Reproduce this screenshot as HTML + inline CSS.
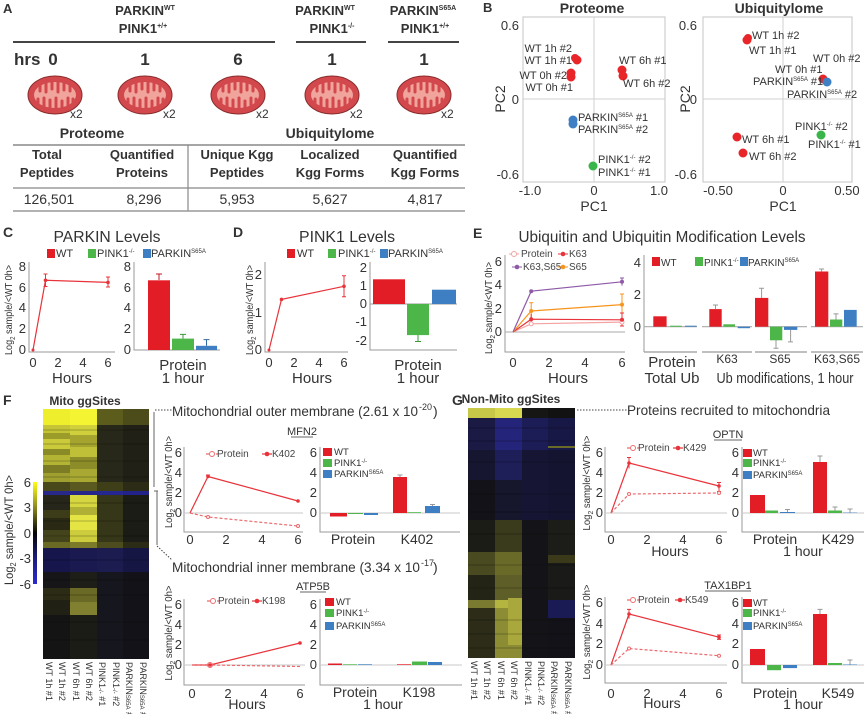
<!DOCTYPE html>
<html><head><meta charset="utf-8"><style>
body{margin:0;background:#fff}
svg{display:block}
text{font-family:"Liberation Sans",Arial,sans-serif;fill:#333}
.b{font-weight:bold}
.ax{stroke:#9a9a9a;stroke-width:1;fill:none}
.zl{stroke:#c8c8c8;stroke-width:1}
.tk{font-size:13px;fill:#444}
.lg{font-size:10px;fill:#444}
.pl{font-size:11px;fill:#555}
.rd{fill:#e31d25}.gn{fill:#4cb748}.bl{fill:#3d7fc2}
.ln{stroke:#e8333a;stroke-width:1.2;fill:none}
.ld{stroke:#ec6a6e;stroke-width:1.2;fill:none;stroke-dasharray:3,2}
.eb{stroke:#e8333a;stroke-width:1;fill:none}
.cl{font-size:9px;fill:#333}
</style></head><body>
<svg width="864" height="714" viewBox="0 0 864 714" xmlns="http://www.w3.org/2000/svg">
<defs>
<g id="mito">
<ellipse rx="27" ry="19" fill="#d2484c" stroke="#8a2c2c" stroke-width="1"/>
<ellipse rx="21" ry="13" fill="#f0a49c"/>
<path d="M-15,-12 v8 M-9,-13 v10 M-3,-13 v7 M3,-13 v10 M9,-13 v8 M15,-11 v7 M-17,12 v-8 M-11,13 v-10 M-5,13 v-8 M1,13 v-10 M7,13 v-7 M13,12 v-9 M18,9 v-5" stroke="#d2484c" stroke-width="3" stroke-linecap="round"/>
</g>
<linearGradient id="cbar" x1="0" y1="0" x2="0" y2="1">
<stop offset="0" stop-color="#ffff10"/><stop offset="0.25" stop-color="#8a8a1c"/><stop offset="0.5" stop-color="#050505"/><stop offset="0.75" stop-color="#1c1c80"/><stop offset="1" stop-color="#2a2ad0"/>
</linearGradient>
</defs>
<rect width="864" height="714" fill="#fff"/>

<!-- ===== Panel A ===== -->
<text x="3" y="13" class="b" font-size="13">A</text>
<text x="145" y="15" text-anchor="middle" class="b" font-size="13">PARKIN<tspan font-size="7" dy="-5">WT</tspan></text>
<text x="143" y="33" text-anchor="middle" class="b" font-size="13">PINK1<tspan font-size="7" dy="-5">+/+</tspan></text>
<line x1="13" y1="42" x2="275" y2="42" stroke="#444" stroke-width="2"/>
<text x="325" y="15" text-anchor="middle" class="b" font-size="13">PARKIN<tspan font-size="7" dy="-5">WT</tspan></text>
<text x="332" y="33" text-anchor="middle" class="b" font-size="13">PINK1<tspan font-size="7" dy="-5">-/-</tspan></text>
<line x1="296" y1="42" x2="366" y2="42" stroke="#444" stroke-width="2"/>
<text x="423" y="15" text-anchor="middle" class="b" font-size="13">PARKIN<tspan font-size="7" dy="-5">S65A</tspan></text>
<text x="425" y="33" text-anchor="middle" class="b" font-size="13">PINK1<tspan font-size="7" dy="-5">+/+</tspan></text>
<line x1="388" y1="42" x2="459" y2="42" stroke="#444" stroke-width="2"/>
<text x="14" y="65" class="b" font-size="17">hrs</text>
<text x="53" y="65" text-anchor="middle" class="b" font-size="17">0</text>
<text x="145" y="65" text-anchor="middle" class="b" font-size="17">1</text>
<text x="238" y="65" text-anchor="middle" class="b" font-size="17">6</text>
<text x="332" y="65" text-anchor="middle" class="b" font-size="17">1</text>
<text x="424" y="65" text-anchor="middle" class="b" font-size="17">1</text>
<use href="#mito" x="55" y="95"/>
<use href="#mito" x="145" y="95"/>
<use href="#mito" x="238" y="95"/>
<use href="#mito" x="332" y="95"/>
<use href="#mito" x="424" y="95"/>
<text x="70" y="118" font-size="12">x2</text>
<text x="163" y="118" font-size="12">x2</text>
<text x="256" y="118" font-size="12">x2</text>
<text x="350" y="118" font-size="12">x2</text>
<text x="441" y="118" font-size="12">x2</text>
<text x="92" y="138" text-anchor="middle" class="b" font-size="14">Proteome</text>
<text x="330" y="138" text-anchor="middle" class="b" font-size="14">Ubiquitylome</text>
<line x1="13" y1="145" x2="465" y2="145" stroke="#888" stroke-width="1.5"/>
<line x1="188" y1="145" x2="188" y2="211" stroke="#888" stroke-width="1.2"/>
<g class="b" font-size="13" text-anchor="middle">
<text x="47" y="159">Total</text><text x="47" y="177">Peptides</text>
<text x="142" y="159">Quantified</text><text x="142" y="177">Proteins</text>
<text x="237" y="159">Unique Kgg</text><text x="237" y="177">Peptides</text>
<text x="330" y="159">Localized</text><text x="330" y="177">Kgg Forms</text>
<text x="425" y="159">Quantified</text><text x="425" y="177">Kgg Forms</text>
</g>
<line x1="13" y1="188" x2="465" y2="188" stroke="#888" stroke-width="1.2"/>
<g font-size="14" text-anchor="middle">
<text x="49" y="204">126,501</text><text x="144" y="204">8,296</text><text x="237" y="204">5,953</text><text x="330" y="204">5,627</text><text x="425" y="204">4,817</text>
</g>
<line x1="13" y1="211" x2="465" y2="211" stroke="#999" stroke-width="1.5"/>

<!-- ===== Panel B ===== -->
<text x="483" y="12" class="b" font-size="13">B</text>
<text x="592" y="13" text-anchor="middle" class="b" font-size="14">Proteome</text>
<text x="779" y="13" text-anchor="middle" class="b" font-size="14">Ubiquitylome</text>
<rect x="523" y="17" width="142" height="165" fill="none" stroke="#c4c4c4"/>
<line x1="594" y1="17" x2="594" y2="182" stroke="#d0d0d0"/>
<line x1="523" y1="99" x2="665" y2="99" stroke="#d0d0d0"/>
<g class="tk" text-anchor="end"><text x="519" y="30">0.6</text><text x="519" y="104">0</text><text x="519" y="179">-0.6</text></g>
<g class="tk" text-anchor="middle"><text x="530" y="195">-1.0</text><text x="594" y="195">0</text><text x="659" y="195">1.0</text></g>
<text x="594" y="211" text-anchor="middle" font-size="14" fill="#444">PC1</text>
<text transform="translate(505,99) rotate(-90)" text-anchor="middle" font-size="14" fill="#444">PC2</text>
<g fill="#e8262a"><circle cx="577" cy="60" r="4.5"/><circle cx="575" cy="58" r="4"/><circle cx="571" cy="73" r="4.5"/><circle cx="571" cy="77" r="4.5"/><circle cx="622" cy="70" r="4.5"/><circle cx="623" cy="76" r="4.5"/></g>
<g fill="#3f7fc4"><circle cx="573" cy="120" r="4.5"/><circle cx="573" cy="124" r="4.5"/></g>
<circle cx="593" cy="166" r="4.5" fill="#3ab54a"/>
<g class="pl">
<text x="572" y="52" text-anchor="end">WT 1h #2</text>
<text x="572" y="64" text-anchor="end">WT 1h #1</text>
<text x="567" y="79" text-anchor="end">WT 0h #2</text>
<text x="573" y="91" text-anchor="end">WT 0h #1</text>
<text x="619" y="64">WT 6h #1</text>
<text x="623" y="87">WT 6h #2</text>
<text x="578" y="121">PARKIN<tspan font-size="6" dy="-4">S65A</tspan><tspan dy="4"> #1</tspan></text>
<text x="578" y="133">PARKIN<tspan font-size="6" dy="-4">S65A</tspan><tspan dy="4"> #2</tspan></text>
<text x="598" y="163">PINK1<tspan font-size="6" dy="-4">-/-</tspan><tspan dy="4"> #2</tspan></text>
<text x="598" y="176">PINK1<tspan font-size="6" dy="-4">-/-</tspan><tspan dy="4"> #1</tspan></text>
</g>
<rect x="703" y="17" width="149" height="165" fill="none" stroke="#c4c4c4"/>
<line x1="783" y1="17" x2="783" y2="182" stroke="#d0d0d0"/>
<line x1="703" y1="99" x2="852" y2="99" stroke="#d0d0d0"/>
<g class="tk" text-anchor="end"><text x="697" y="30">0.6</text><text x="697" y="104">0</text><text x="697" y="179">-0.6</text></g>
<g class="tk" text-anchor="middle"><text x="718" y="195">-0.50</text><text x="783" y="195">0</text><text x="847" y="195">0.50</text></g>
<text x="783" y="211" text-anchor="middle" font-size="14" fill="#444">PC1</text>
<text transform="translate(690,99) rotate(-90)" text-anchor="middle" font-size="14" fill="#444">PC2</text>
<g fill="#e8262a"><circle cx="747" cy="40" r="4.5"/><circle cx="748" cy="38" r="4"/><circle cx="823" cy="79" r="4.5"/><circle cx="737" cy="137" r="4.5"/><circle cx="743" cy="153" r="4.5"/></g>
<circle cx="827" cy="82" r="4.5" fill="#3f7fc4"/>
<circle cx="821" cy="135" r="4.5" fill="#3ab54a"/>
<g class="pl">
<text x="752" y="39">WT 1h #2</text>
<text x="749" y="54">WT 1h #1</text>
<text x="813" y="62">WT 0h #2</text>
<text x="775" y="73">WT 0h #1</text>
<text x="753" y="85">PARKIN<tspan font-size="6" dy="-4">S65A</tspan><tspan dy="4"> #1</tspan></text>
<text x="787" y="98">PARKIN<tspan font-size="6" dy="-4">S65A</tspan><tspan dy="4"> #2</tspan></text>
<text x="795" y="130">PINK1<tspan font-size="6" dy="-4">-/-</tspan><tspan dy="4"> #2</tspan></text>
<text x="808" y="148">PINK1<tspan font-size="6" dy="-4">-/-</tspan><tspan dy="4"> #1</tspan></text>
<text x="742" y="143">WT 6h #1</text>
<text x="749" y="160">WT 6h #2</text>
</g>

<!-- ===== Panel C ===== -->
<text x="3" y="237" class="b" font-size="14">C</text>
<text x="107" y="242" text-anchor="middle" font-size="16" textLength="107" lengthAdjust="spacingAndGlyphs">PARKIN Levels</text>
<rect x="47" y="249" width="8" height="9" class="rd"/><text x="56" y="257" font-size="11">WT</text>
<rect x="88" y="249" width="8" height="9" class="gn"/><text x="97" y="257" font-size="11">PINK1<tspan font-size="6" dy="-4">-/-</tspan></text>
<rect x="143" y="249" width="8" height="9" class="bl"/><text x="151" y="257" font-size="11">PARKIN<tspan font-size="6" dy="-4">S65A</tspan></text>
<text transform="translate(12,310) rotate(-90)" text-anchor="middle" font-size="10.5" textLength="90" lengthAdjust="spacingAndGlyphs">Log<tspan font-size="7" dy="3">2</tspan><tspan dy="-3"> sample/&lt;WT 0h&gt;</tspan></text>
<path class="ax" d="M29,262 V352 H115"/>
<g class="tk" text-anchor="end"><text x="26" y="354">0</text><text x="26" y="333">2</text><text x="26" y="312">4</text><text x="26" y="292">6</text><text x="26" y="271">8</text></g>
<g class="tk" text-anchor="middle"><text x="33" y="367">0</text><text x="58" y="367">2</text><text x="83" y="367">4</text><text x="108" y="367">6</text></g>
<text x="72" y="383" text-anchor="middle" font-size="15">Hours</text>
<polyline class="ln" points="33,350 45.5,280.3 108,282.4"/>
<path class="eb" d="M45.5,274 V286.5 M43.5,274 H47.5 M43.5,286.5 H47.5 M108,277 V287 M106,277 H110 M106,287 H110"/>
<g fill="#e8333a"><circle cx="33" cy="350" r="1.5"/><circle cx="45.5" cy="280.3" r="1.8"/><circle cx="108" cy="282.4" r="1.8"/></g>
<path class="ax" d="M134,262 V350 H220"/>
<g class="tk" text-anchor="end"><text x="131" y="354">0</text><text x="131" y="333">2</text><text x="131" y="312">4</text><text x="131" y="292">6</text><text x="131" y="271">8</text></g>
<rect x="148" y="280.3" width="22" height="69.7" class="rd"/>
<rect x="172" y="338.6" width="22" height="11.4" class="gn"/>
<rect x="196" y="345.8" width="21" height="4.2" class="bl"/>
<path d="M159,280 V274 M156,274 H162" stroke="#c01820"/>
<path d="M183,338.6 V334.4 M180,334.4 H186" stroke="#3a9a38"/>
<path d="M206.5,345.8 V339.6 M203.5,339.6 H209.5" stroke="#2e6aa8"/>
<text x="183" y="370" text-anchor="middle" font-size="15">Protein</text>
<text x="183" y="383" text-anchor="middle" font-size="15">1 hour</text>

<!-- ===== Panel D ===== -->
<text x="233" y="237" class="b" font-size="14">D</text>
<text x="347" y="242" text-anchor="middle" font-size="16" textLength="96" lengthAdjust="spacingAndGlyphs">PINK1 Levels</text>
<rect x="287" y="249" width="8" height="9" class="rd"/><text x="297" y="257" font-size="11">WT</text>
<rect x="328" y="249" width="8" height="9" class="gn"/><text x="338" y="257" font-size="11">PINK1<tspan font-size="6" dy="-4">-/-</tspan></text>
<rect x="380" y="249" width="8" height="9" class="bl"/><text x="388" y="257" font-size="11">PARKIN<tspan font-size="6" dy="-4">S65A</tspan></text>
<text transform="translate(253,310) rotate(-90)" text-anchor="middle" font-size="10.5" textLength="90" lengthAdjust="spacingAndGlyphs">Log<tspan font-size="7" dy="3">2</tspan><tspan dy="-3"> sample/&lt;WT 0h&gt;</tspan></text>
<path class="ax" d="M265,262 V352 H348"/>
<g class="tk" text-anchor="end"><text x="262" y="354">0</text><text x="262" y="317">1</text><text x="262" y="279">2</text></g>
<g class="tk" text-anchor="middle"><text x="269" y="367">0</text><text x="294" y="367">2</text><text x="319" y="367">4</text><text x="344" y="367">6</text></g>
<text x="312" y="383" text-anchor="middle" font-size="15">Hours</text>
<polyline class="ln" points="269,350 281.5,299.4 344,286.3"/>
<path class="eb" d="M344,275.8 V296.8 M342,275.8 H346 M342,296.8 H346"/>
<g fill="#e8333a"><circle cx="269" cy="350" r="1.5"/><circle cx="281.5" cy="299.4" r="1.8"/><circle cx="344" cy="286.3" r="1.8"/></g>
<path class="ax" d="M370,262 V350 H457"/>
<line x1="370" y1="304" x2="457" y2="304" stroke="#999"/>
<g class="tk" text-anchor="end"><text x="367" y="272">2</text><text x="367" y="290">1</text><text x="367" y="308">0</text><text x="367" y="326">-1</text><text x="367" y="345">-2</text></g>
<rect x="373" y="279.3" width="32" height="24.7" class="rd"/>
<rect x="407" y="304" width="22" height="31.1" class="gn"/>
<rect x="432" y="289.7" width="24" height="14.3" class="bl"/>
<path d="M418,335 V341.5 M415,341.5 H421" stroke="#3a9a38"/>
<text x="418" y="370" text-anchor="middle" font-size="15">Protein</text>
<text x="418" y="383" text-anchor="middle" font-size="15">1 hour</text>

<!-- ===== Panel E ===== -->
<text x="473" y="238" class="b" font-size="14">E</text>
<text x="662" y="242" text-anchor="middle" font-size="16" textLength="287" lengthAdjust="spacingAndGlyphs">Ubiquitin and Ubiquitin Modification Levels</text>
<text transform="translate(492,308) rotate(-90)" text-anchor="middle" font-size="10.5" textLength="92" lengthAdjust="spacingAndGlyphs">Log<tspan font-size="7" dy="3">2</tspan><tspan dy="-3"> sample/&lt;WT 0h&gt;</tspan></text>
<path class="ax" d="M505,255 V352 H625"/>
<line x1="505" y1="332" x2="625" y2="332" stroke="#aaa"/>
<g class="tk" text-anchor="end"><text x="502" y="336">0</text><text x="502" y="313">2</text><text x="502" y="289">4</text><text x="502" y="266">6</text></g>
<g class="tk" text-anchor="middle"><text x="513" y="367">0</text><text x="549" y="367">2</text><text x="585" y="367">4</text><text x="622" y="367">6</text></g>
<text x="568" y="383" text-anchor="middle" font-size="15">Hours</text>
<polyline points="513,332 531.2,323.8 622,322.1" fill="none" stroke="#f4a3a3" stroke-width="1.2"/>
<polyline points="513,332 531.2,319.2 622,319.8" fill="none" stroke="#e8333a" stroke-width="1.2"/>
<polyline points="513,332 531.2,311 622,304.6" fill="none" stroke="#f7941d" stroke-width="1.2"/>
<polyline points="513,332 531.2,291.2 622,281.8" fill="none" stroke="#8e5aa8" stroke-width="1.2"/>
<path d="M531.2,302.8 V319.2 M622,294 V315.2 M529.2,302.8 H533.2 M620,294 H624" stroke="#f7941d" fill="none"/>
<path d="M531.2,314 V324 M622,313 V326 M620,313 H624 M620,326 H624" stroke="#e8333a" fill="none"/>
<path d="M622,278 V285.6 M620,278 H624" stroke="#8e5aa8" fill="none"/>
<g><circle cx="531.2" cy="323.8" r="2" fill="#fff" stroke="#f4a3a3"/><circle cx="622" cy="322.1" r="2" fill="#fff" stroke="#f4a3a3"/>
<circle cx="531.2" cy="319.2" r="2" fill="#e8333a"/><circle cx="622" cy="319.8" r="2" fill="#e8333a"/>
<circle cx="531.2" cy="311" r="2" fill="#f7941d"/><circle cx="622" cy="304.6" r="2" fill="#f7941d"/>
<circle cx="531.2" cy="291.2" r="2" fill="#8e5aa8"/><circle cx="622" cy="281.8" r="2" fill="#8e5aa8"/></g>
<line x1="509" y1="254" x2="519" y2="254" stroke="#f4a3a3"/><circle cx="514" cy="254" r="2.5" fill="#fff" stroke="#f4a3a3"/><text x="521" y="257" class="lg">Protein</text>
<line x1="558" y1="254" x2="568" y2="254" stroke="#e8333a"/><circle cx="563" cy="254" r="2.3" fill="#e8333a"/><text x="569" y="257" class="lg">K63</text>
<line x1="512" y1="267" x2="522" y2="267" stroke="#8e5aa8"/><circle cx="517" cy="267" r="2.3" fill="#8e5aa8"/><text x="523" y="270" class="lg">K63,S65</text>
<line x1="558" y1="267" x2="568" y2="267" stroke="#f7941d"/><circle cx="563" cy="267" r="2.3" fill="#f7941d"/><text x="569" y="270" class="lg">S65</text>
<line x1="644" y1="255" x2="644" y2="352" class="ax"/>
<g class="tk" text-anchor="end"><text x="641" y="267">4</text><text x="641" y="299">2</text><text x="641" y="331">0</text></g>
<rect x="652" y="257" width="8" height="9" class="rd"/><text x="661" y="266" font-size="10">WT</text>
<rect x="695" y="257" width="8" height="9" class="gn"/><text x="704" y="266" font-size="10">PINK1<tspan font-size="6" dy="-4">-/-</tspan></text>
<rect x="740" y="257" width="8" height="9" class="bl"/><text x="748" y="266" font-size="10">PARKIN<tspan font-size="6" dy="-4">S65A</tspan></text>
<g stroke="#aaa" stroke-width="1.2"><path d="M644,326.7 H697 M702,326.7 H752 M755,326.7 H807 M811,326.7 H863"/><path d="M644,352 H697 M702,352 H752 M755,352 H807 M811,352 H863" stroke="#999"/></g>
<rect x="653.3" y="316.3" width="13.3" height="10.4" class="rd"/>
<rect x="670" y="325.7" width="11.7" height="1" class="gn"/>
<rect x="685" y="325.7" width="11.7" height="1" class="bl"/>
<rect x="709.3" y="309.1" width="12.4" height="17.6" class="rd"/>
<rect x="723.3" y="324.3" width="11.7" height="2.4" class="gn"/>
<rect x="737.7" y="326.7" width="12.3" height="1.5" class="bl"/>
<rect x="755" y="297.9" width="13.3" height="28.8" class="rd"/>
<rect x="770" y="326.7" width="12.3" height="13.6" class="gn"/>
<rect x="784" y="326.7" width="13.3" height="3.2" class="bl"/>
<rect x="815" y="271.5" width="13.3" height="55.2" class="rd"/>
<rect x="830" y="319.5" width="12.3" height="7.2" class="gn"/>
<rect x="844" y="309.9" width="12.7" height="16.8" class="bl"/>
<g stroke="#999" fill="none"><path d="M715.5,309 V305 M713,305 H718 M761.6,298 V288.3 M759,288.3 H764 M776,340 V348.3 M773.5,348.3 H778.5 M790.6,330 V341.9 M788,341.9 H793 M821.6,271.5 V269 M819,269 H824 M836,319.5 V313.9 M833.5,313.9 H838.5"/></g>
<text x="672" y="367" text-anchor="middle" font-size="15">Protein</text>
<text x="672" y="383" text-anchor="middle" font-size="15">Total Ub</text>
<text x="727" y="363" text-anchor="middle" font-size="12">K63</text>
<text x="780" y="363" text-anchor="middle" font-size="12">S65</text>
<text x="837" y="363" text-anchor="middle" font-size="12">K63,S65</text>
<text x="785" y="383" text-anchor="middle" font-size="15" textLength="137" lengthAdjust="spacingAndGlyphs">Ub modifications, 1 hour</text>

<!-- ===== Panel F ===== -->
<text x="3" y="405" class="b" font-size="14">F</text>
<text x="85" y="405" text-anchor="middle" class="b" font-size="12">Mito ggSites</text>
<g>
<rect x="43" y="409" width="106" height="250" fill="#141414"/>
<rect x="43" y="409" width="27" height="16" fill="#eeee2c"/><rect x="43" y="425" width="27" height="8" fill="#c4c436"/><rect x="43" y="433" width="27" height="6" fill="#9c9c2a"/><rect x="43" y="439" width="27" height="10" fill="#caca3a"/><rect x="43" y="449" width="27" height="6" fill="#8a8a26"/><rect x="43" y="455" width="27" height="10" fill="#b4b434"/><rect x="43" y="465" width="27" height="8" fill="#7c7c24"/><rect x="43" y="473" width="27" height="9" fill="#a0a030"/><rect x="43" y="482" width="27" height="9" fill="#48481a"/><rect x="43" y="491" width="27" height="4" fill="#28288a"/><rect x="43" y="495" width="27" height="15" fill="#26261a"/><rect x="43" y="510" width="27" height="8" fill="#3c3c18"/><rect x="43" y="518" width="27" height="12" fill="#2a2a14"/><rect x="43" y="530" width="27" height="12" fill="#44441c"/><rect x="43" y="542" width="27" height="6" fill="#6a6a24"/><rect x="43" y="548" width="27" height="24" fill="#16164c"/><rect x="43" y="572" width="27" height="16" fill="#161618"/><rect x="43" y="588" width="27" height="12" fill="#2c2c16"/><rect x="43" y="600" width="27" height="15" fill="#202014"/>
<rect x="70" y="409" width="27" height="16" fill="#f4f432"/><rect x="70" y="425" width="27" height="10" fill="#d0d03c"/><rect x="70" y="435" width="27" height="12" fill="#a4a42e"/><rect x="70" y="447" width="27" height="10" fill="#c0c038"/><rect x="70" y="457" width="27" height="12" fill="#8c8c28"/><rect x="70" y="469" width="27" height="13" fill="#a8a832"/><rect x="70" y="482" width="27" height="9" fill="#5a5a20"/><rect x="70" y="491" width="27" height="4" fill="#26268a"/><rect x="70" y="495" width="27" height="12" fill="#d6d640"/><rect x="70" y="507" width="27" height="8" fill="#b0b034"/><rect x="70" y="515" width="27" height="15" fill="#e4e444"/><rect x="70" y="530" width="27" height="12" fill="#cccc3c"/><rect x="70" y="542" width="27" height="6" fill="#7a7a28"/><rect x="70" y="548" width="27" height="24" fill="#1a1a50"/><rect x="70" y="572" width="27" height="16" fill="#1e1e18"/><rect x="70" y="588" width="27" height="14" fill="#6a6a26"/><rect x="70" y="602" width="27" height="13" fill="#808030"/><rect x="70" y="615" width="27" height="44" fill="#1c1c16"/>
<rect x="97" y="409" width="26" height="16" fill="#5c5c1c"/><rect x="97" y="425" width="26" height="57" fill="#28281a"/><rect x="97" y="482" width="26" height="9" fill="#3e3e18"/><rect x="97" y="491" width="26" height="4" fill="#262690"/><rect x="97" y="495" width="26" height="47" fill="#363618"/><rect x="97" y="542" width="26" height="6" fill="#4c4c1e"/><rect x="97" y="548" width="26" height="24" fill="#1c1c50"/><rect x="97" y="572" width="26" height="87" fill="#16161e"/>
<rect x="123" y="409" width="26" height="16" fill="#4c4c1a"/><rect x="123" y="425" width="26" height="57" fill="#202016"/><rect x="123" y="482" width="26" height="9" fill="#2c2c16"/><rect x="123" y="491" width="26" height="4" fill="#22228a"/><rect x="123" y="495" width="26" height="47" fill="#1c1c16"/><rect x="123" y="542" width="26" height="6" fill="#2c2c16"/><rect x="123" y="548" width="26" height="24" fill="#161644"/><rect x="123" y="572" width="26" height="87" fill="#121218"/>
<g stroke="#000" stroke-opacity="0.25"><path d="M43,430H149 M43,444H149 M43,461H149 M43,477H149 M43,503H149 M43,521H149 M43,536H149 M43,560H149 M43,580H149 M43,595H149 M43,622H149 M43,640H149"/></g>
</g>
<rect x="33" y="482" width="4" height="102" fill="url(#cbar)"/>
<g class="tk" text-anchor="end"><text x="31" y="487">6</text><text x="31" y="512">3</text><text x="31" y="538">0</text><text x="31" y="563">-3</text><text x="31" y="589">-6</text></g>
<text transform="translate(13,530) rotate(-90)" text-anchor="middle" font-size="12" textLength="110" lengthAdjust="spacingAndGlyphs">Log<tspan font-size="8" dy="3">2</tspan><tspan dy="-3"> sample/&lt;WT 0h&gt;</tspan></text>
<g class="cl">
<text transform="translate(46,662) rotate(90)">WT 1h #1</text>
<text transform="translate(59,662) rotate(90)">WT 1h #2</text>
<text transform="translate(73,662) rotate(90)">WT 6h #1</text>
<text transform="translate(86,662) rotate(90)">WT 6h #2</text>
<text transform="translate(99,662) rotate(90)">PINK1<tspan font-size="6">-/-</tspan> #1</text>
<text transform="translate(113,662) rotate(90)">PINK1<tspan font-size="6">-/-</tspan> #2</text>
<text transform="translate(126,662) rotate(90)">PARKIN<tspan font-size="6">S65A</tspan> #1</text>
<text transform="translate(140,662) rotate(90)">PARKIN<tspan font-size="6">S65A</tspan> #2</text>
</g>
<path d="M154,412 V487" stroke="#666" fill="none"/>
<path d="M155,410 H172" stroke="#444" stroke-dasharray="1.5,1.5"/>
<path d="M154,491 H158 M157,491 V545" stroke="#666" fill="none"/>
<path d="M157,546 L172,560" stroke="#444" stroke-dasharray="1.5,1.5"/>
<!-- MFN2 -->
<text x="172" y="416" font-size="14" textLength="246" lengthAdjust="spacingAndGlyphs">Mitochondrial outer membrane (2.61 x 10</text>
<text x="419" y="410" font-size="9">-20</text><text x="433" y="416" font-size="14">)</text>
<text x="302" y="435" text-anchor="middle" font-size="11">MFN2</text><line x1="291" y1="437" x2="313" y2="437" stroke="#333" stroke-width="0.8"/>
<text transform="translate(172,482) rotate(-90)" text-anchor="middle" font-size="10" textLength="92" lengthAdjust="spacingAndGlyphs">Log<tspan font-size="7" dy="3">2</tspan><tspan dy="-3"> sample/&lt;WT 0h&gt;</tspan></text>
<path class="ax" d="M184,447 V532 H303"/>
<line x1="184" y1="513" x2="303" y2="513" class="zl"/>
<g class="tk" text-anchor="end"><text x="182" y="517">0</text><text x="182" y="497">2</text><text x="182" y="477">4</text><text x="182" y="457">6</text></g>
<g class="tk" text-anchor="middle"><text x="190" y="544">0</text><text x="226" y="544">2</text><text x="262" y="544">4</text><text x="298" y="544">6</text></g>
<polyline class="ln" points="190,513 208,476.5 298,501"/>
<polyline class="ld" points="190,513 208,517 298,526"/>
<path class="eb" d="M208,475 V478 M206,475 H210"/>
<g fill="#e8333a"><circle cx="208" cy="476.5" r="1.8"/><circle cx="298" cy="501" r="1.8"/></g>
<g fill="#fff" stroke="#ec6a6e"><circle cx="208" cy="517" r="1.5"/><circle cx="298" cy="526" r="1.5"/></g>
<line x1="206" y1="454" x2="218" y2="454" class="ld"/><circle cx="212" cy="454" r="2.5" fill="#fff" stroke="#ec6a6e"/><text x="217" y="457" class="lg">Protein</text>
<line x1="262" y1="454" x2="272" y2="454" class="ln"/><circle cx="267" cy="454" r="2.3" fill="#e8333a"/><text x="272" y="457" class="lg">K402</text>
<path class="ax" d="M320,447 V532 H460"/>
<line x1="320" y1="513" x2="460" y2="513" class="zl"/>
<g class="tk" text-anchor="end"><text x="317" y="517">0</text><text x="317" y="497">2</text><text x="317" y="477">4</text><text x="317" y="457">6</text></g>
<rect x="323" y="448" width="9" height="8" class="rd"/><text x="334" y="455" font-size="9.5">WT</text>
<rect x="323" y="459" width="9" height="8" class="gn"/><text x="334" y="466" font-size="9.5">PINK1<tspan font-size="6" dy="-3">-/-</tspan></text>
<rect x="323" y="470" width="9" height="8" class="bl"/><text x="334" y="477" font-size="9.5">PARKIN<tspan font-size="6" dy="-3">S65A</tspan></text>
<rect x="330" y="513" width="17" height="3.5" class="rd"/>
<rect x="348" y="513" width="15" height="1" class="gn"/>
<rect x="364" y="513" width="14" height="2" class="bl"/>
<rect x="393" y="477" width="14" height="36" class="rd"/>
<rect x="407" y="512.2" width="14" height="0.8" class="gn"/>
<rect x="425" y="506" width="15" height="7" class="bl"/>
<path d="M400,477 V475 M397.5,475 H402.5 M432.5,506 V504.5 M430,504.5 H435" stroke="#999"/>
<text x="353" y="544" text-anchor="middle" font-size="14">Protein</text>
<text x="417" y="544" text-anchor="middle" font-size="14">K402</text>
<!-- ATP5B -->
<text x="172" y="572" font-size="14" textLength="248" lengthAdjust="spacingAndGlyphs">Mitochondrial inner membrane (3.34 x 10</text>
<text x="421" y="566" font-size="9">-17</text><text x="433" y="572" font-size="14">)</text>
<text x="313" y="590" text-anchor="middle" font-size="11">ATP5B</text><line x1="300" y1="592" x2="326" y2="592" stroke="#333" stroke-width="0.8"/>
<text transform="translate(172,633) rotate(-90)" text-anchor="middle" font-size="10" textLength="95" lengthAdjust="spacingAndGlyphs">Log<tspan font-size="7" dy="3">2</tspan><tspan dy="-3"> sample/&lt;WT 0h&gt;</tspan></text>
<path class="ax" d="M184,599 V685 H305"/>
<line x1="184" y1="665" x2="305" y2="665" class="zl"/>
<g class="tk" text-anchor="end"><text x="182" y="669">0</text><text x="182" y="649">2</text><text x="182" y="629">4</text><text x="182" y="609">6</text></g>
<g class="tk" text-anchor="middle"><text x="192" y="698">0</text><text x="228" y="698">2</text><text x="264" y="698">4</text><text x="300" y="698">6</text></g>
<text x="247" y="709" text-anchor="middle" font-size="14">Hours</text>
<polyline class="ln" points="192,665 210,665 300,643"/>
<polyline class="ld" points="192,665 210,665 300,666.5"/>
<g fill="#e8333a"><circle cx="210" cy="665" r="1.8"/><circle cx="300" cy="643" r="1.8"/></g>
<circle cx="210" cy="665" r="2.5" fill="none" stroke="#ec6a6e"/>
<line x1="207" y1="601" x2="219" y2="601" class="ld"/><circle cx="213" cy="601" r="2.5" fill="#fff" stroke="#ec6a6e"/><text x="218" y="604" class="lg">Protein</text>
<line x1="252" y1="601" x2="262" y2="601" class="ln"/><circle cx="257" cy="601" r="2.3" fill="#e8333a"/><text x="262" y="604" class="lg">K198</text>
<path class="ax" d="M320,599 V685 H462"/>
<line x1="320" y1="665" x2="462" y2="665" class="zl"/>
<g class="tk" text-anchor="end"><text x="317" y="669">0</text><text x="317" y="649">2</text><text x="317" y="629">4</text><text x="317" y="609">6</text></g>
<rect x="325" y="598" width="9" height="8" class="rd"/><text x="336" y="605" font-size="9.5">WT</text>
<rect x="325" y="609" width="9" height="8" class="gn"/><text x="336" y="616" font-size="9.5">PINK1<tspan font-size="6" dy="-3">-/-</tspan></text>
<rect x="325" y="622" width="9" height="8" class="bl"/><text x="336" y="629" font-size="9.5">PARKIN<tspan font-size="6" dy="-3">S65A</tspan></text>
<rect x="328" y="663.5" width="14" height="1.5" class="rd"/>
<rect x="343" y="664.3" width="14" height="0.7" class="gn"/>
<rect x="358" y="664.3" width="14" height="0.7" class="bl"/>
<rect x="397" y="664.3" width="14" height="0.7" class="rd"/>
<rect x="412" y="661.5" width="15" height="3.5" class="gn"/>
<rect x="428" y="662" width="14" height="3" class="bl"/>
<text x="355" y="697" text-anchor="middle" font-size="14">Protein</text>
<text x="419" y="697" text-anchor="middle" font-size="14">K198</text>
<text x="383" y="709" text-anchor="middle" font-size="14">1 hour</text>

<!-- ===== Panel G ===== -->
<text x="452" y="405" class="b" font-size="14">G</text>
<text x="511" y="403" text-anchor="middle" class="b" font-size="12">Non-Mito ggSites</text>
<g>
<rect x="468" y="408" width="107" height="250" fill="#121216"/>
<rect x="468" y="408" width="27" height="10" fill="#c8c848"/><rect x="468" y="418" width="27" height="32" fill="#1a1a44"/><rect x="468" y="450" width="27" height="30" fill="#161630"/><rect x="468" y="480" width="27" height="40" fill="#121218"/><rect x="468" y="520" width="27" height="32" fill="#1c1c16"/><rect x="468" y="552" width="27" height="23" fill="#4a4a20"/><rect x="468" y="575" width="27" height="25" fill="#242416"/><rect x="468" y="600" width="27" height="8" fill="#7a7a30"/><rect x="468" y="608" width="27" height="50" fill="#2c2c18"/>
<rect x="495" y="408" width="27" height="10" fill="#d8d850"/><rect x="495" y="418" width="27" height="32" fill="#24247a"/><rect x="495" y="450" width="27" height="30" fill="#1e1e58"/><rect x="495" y="480" width="27" height="40" fill="#16162c"/><rect x="495" y="520" width="27" height="32" fill="#3a3a1c"/><rect x="495" y="552" width="27" height="23" fill="#6a6a28"/><rect x="495" y="575" width="27" height="25" fill="#5e5e28"/><rect x="495" y="600" width="27" height="8" fill="#b4b440"/><rect x="495" y="608" width="27" height="50" fill="#8c8c34"/><rect x="508" y="598" width="14" height="47" fill="#a8a83c"/>
<rect x="522" y="408" width="26" height="10" fill="#161614"/><rect x="522" y="418" width="26" height="32" fill="#1c1c56"/><rect x="522" y="450" width="26" height="70" fill="#161634"/><rect x="522" y="520" width="26" height="138" fill="#141418"/>
<rect x="548" y="408" width="27" height="10" fill="#121212"/><rect x="548" y="418" width="27" height="32" fill="#181846"/><rect x="548" y="450" width="27" height="70" fill="#141430"/><rect x="548" y="520" width="27" height="35" fill="#1c1c18"/><rect x="548" y="555" width="27" height="8" fill="#3a3a1a"/><rect x="548" y="563" width="27" height="37" fill="#1a1a18"/><rect x="548" y="600" width="27" height="18" fill="#1a1a54"/><rect x="548" y="618" width="27" height="40" fill="#121218"/>
<rect x="548" y="446" width="27" height="2" fill="#6a6a28"/>
<g stroke="#000" stroke-opacity="0.25"><path d="M468,428H575 M468,441H575 M468,462H575 M468,494H575 M468,512H575 M468,534H575 M468,565H575 M468,588H575 M468,620H575 M468,634H575 M468,648H575"/></g>
</g>
<g class="cl">
<text transform="translate(471,661) rotate(90)">WT 1h #1</text>
<text transform="translate(484,661) rotate(90)">WT 1h #2</text>
<text transform="translate(498,661) rotate(90)">WT 6h #1</text>
<text transform="translate(511,661) rotate(90)">WT 6h #2</text>
<text transform="translate(525,661) rotate(90)">PINK1<tspan font-size="6">-/-</tspan> #1</text>
<text transform="translate(538,661) rotate(90)">PINK1<tspan font-size="6">-/-</tspan> #2</text>
<text transform="translate(551,661) rotate(90)">PARKIN<tspan font-size="6">S65A</tspan> #1</text>
<text transform="translate(565,661) rotate(90)">PARKIN<tspan font-size="6">S65A</tspan> #2</text>
</g>
<path d="M577,410 H627" stroke="#444" stroke-dasharray="1.5,1.5"/>
<text x="627" y="415" font-size="14" textLength="203" lengthAdjust="spacingAndGlyphs">Proteins recruited to mitochondria</text>
<!-- OPTN -->
<text x="728" y="438" text-anchor="middle" font-size="11">OPTN</text><line x1="714" y1="440" x2="742" y2="440" stroke="#333" stroke-width="0.8"/>
<text transform="translate(590,483) rotate(-90)" text-anchor="middle" font-size="10" textLength="95" lengthAdjust="spacingAndGlyphs">Log<tspan font-size="7" dy="3">2</tspan><tspan dy="-3"> sample/&lt;WT 0h&gt;</tspan></text>
<path class="ax" d="M605,447 V532 H727"/>
<line x1="605" y1="513" x2="727" y2="513" class="zl"/>
<g class="tk" text-anchor="end"><text x="603" y="517">0</text><text x="603" y="497">2</text><text x="603" y="477">4</text><text x="603" y="457">6</text></g>
<g class="tk" text-anchor="middle"><text x="611" y="544">0</text><text x="647" y="544">2</text><text x="683" y="544">4</text><text x="719" y="544">6</text></g>
<text x="670" y="556" text-anchor="middle" font-size="14">Hours</text>
<polyline class="ln" points="611,513 629,463 719,486"/>
<polyline class="ld" points="611,513 629,494 719,493"/>
<path class="eb" d="M629,457.5 V468.5 M627,457.5 H631 M719,482.5 V491.5 M717,482.5 H721 M717,491.5 H721"/>
<g fill="#e8333a"><circle cx="629" cy="463" r="1.8"/><circle cx="719" cy="486" r="1.8"/></g>
<g fill="#fff" stroke="#ec6a6e"><circle cx="629" cy="494" r="1.5"/><circle cx="719" cy="493" r="1.5"/></g>
<line x1="627" y1="448" x2="639" y2="448" class="ld"/><circle cx="633" cy="448" r="2.5" fill="#fff" stroke="#ec6a6e"/><text x="638" y="451" class="lg">Protein</text>
<line x1="673" y1="448" x2="683" y2="448" class="ln"/><circle cx="678" cy="448" r="2.3" fill="#e8333a"/><text x="683" y="451" class="lg">K429</text>
<path class="ax" d="M742,447 V532 H864"/>
<line x1="742" y1="513" x2="864" y2="513" class="zl"/>
<g class="tk" text-anchor="end"><text x="739" y="517">0</text><text x="739" y="497">2</text><text x="739" y="477">4</text><text x="739" y="457">6</text></g>
<rect x="743" y="449" width="9" height="8" class="rd"/><text x="753" y="456" font-size="9.5">WT</text>
<rect x="743" y="459" width="9" height="8" class="gn"/><text x="753" y="466" font-size="9.5">PINK1<tspan font-size="6" dy="-3">-/-</tspan></text>
<rect x="743" y="471" width="9" height="8" class="bl"/><text x="753" y="478" font-size="9.5">PARKIN<tspan font-size="6" dy="-3">S65A</tspan></text>
<rect x="750" y="495" width="15" height="18" class="rd"/>
<rect x="765" y="510.5" width="13" height="2.5" class="gn"/>
<rect x="780" y="512" width="15" height="1" class="bl"/>
<rect x="813" y="462" width="14" height="51" class="rd"/>
<rect x="828" y="510.5" width="14" height="2.5" class="gn"/>
<rect x="843" y="512.6" width="14" height="0.4" class="bl"/>
<path d="M787.5,512 V509.5 M785,509.5 H790 M820,462 V456 M817.5,456 H822.5 M835,510.5 V507 M832.5,507 H837.5 M850,512.6 V509 M847.5,509 H852.5" stroke="#999"/>
<text x="775" y="544" text-anchor="middle" font-size="14">Protein</text>
<text x="838" y="544" text-anchor="middle" font-size="14">K429</text>
<text x="803" y="556" text-anchor="middle" font-size="14">1 hour</text>
<!-- TAX1BP1 -->
<text x="728" y="589" text-anchor="middle" font-size="11">TAX1BP1</text><line x1="705" y1="591" x2="751" y2="591" stroke="#333" stroke-width="0.8"/>
<text transform="translate(590,632) rotate(-90)" text-anchor="middle" font-size="10" textLength="95" lengthAdjust="spacingAndGlyphs">Log<tspan font-size="7" dy="3">2</tspan><tspan dy="-3"> sample/&lt;WT 0h&gt;</tspan></text>
<path class="ax" d="M605,597 V683 H727"/>
<line x1="605" y1="665" x2="727" y2="665" class="zl"/>
<g class="tk" text-anchor="end"><text x="603" y="669">0</text><text x="603" y="648">2</text><text x="603" y="628">4</text><text x="603" y="607">6</text></g>
<g class="tk" text-anchor="middle"><text x="611" y="698">0</text><text x="647" y="698">2</text><text x="683" y="698">4</text><text x="719" y="698">6</text></g>
<text x="662" y="708" text-anchor="middle" font-size="14">Hours</text>
<polyline class="ln" points="611,665 629,614 719,637.2"/>
<polyline class="ld" points="611,665 629,648.5 719,655.7"/>
<path class="eb" d="M629,609.4 V618.6 M627,609.4 H631 M719,635 V639.4 M717,635 H721 M717,639.4 H721"/>
<g fill="#e8333a"><circle cx="629" cy="614" r="1.8"/><circle cx="719" cy="637.2" r="1.8"/></g>
<g fill="#fff" stroke="#ec6a6e"><circle cx="629" cy="648.5" r="1.5"/><circle cx="719" cy="655.7" r="1.5"/></g>
<line x1="627" y1="600" x2="639" y2="600" class="ld"/><circle cx="633" cy="600" r="2.5" fill="#fff" stroke="#ec6a6e"/><text x="638" y="603" class="lg">Protein</text>
<line x1="675" y1="600" x2="685" y2="600" class="ln"/><circle cx="680" cy="600" r="2.3" fill="#e8333a"/><text x="685" y="603" class="lg">K549</text>
<path class="ax" d="M742,597 V683 H864"/>
<line x1="742" y1="665" x2="864" y2="665" class="zl"/>
<g class="tk" text-anchor="end"><text x="739" y="669">0</text><text x="739" y="648">2</text><text x="739" y="628">4</text><text x="739" y="607">6</text></g>
<rect x="743" y="599" width="9" height="8" class="rd"/><text x="753" y="606" font-size="9.5">WT</text>
<rect x="743" y="609" width="9" height="8" class="gn"/><text x="753" y="616" font-size="9.5">PINK1<tspan font-size="6" dy="-3">-/-</tspan></text>
<rect x="743" y="622" width="9" height="8" class="bl"/><text x="753" y="629" font-size="9.5">PARKIN<tspan font-size="6" dy="-3">S65A</tspan></text>
<rect x="750" y="649" width="15" height="16" class="rd"/>
<rect x="767" y="665" width="14" height="5.2" class="gn"/>
<rect x="783" y="665" width="14" height="3.1" class="bl"/>
<rect x="813" y="614" width="14" height="51" class="rd"/>
<rect x="828" y="663" width="14" height="2" class="gn"/>
<rect x="843" y="664.5" width="14" height="0.5" class="bl"/>
<path d="M820,614 V609.4 M817.5,609.4 H822.5 M850,664.5 V660 M847.5,660 H852.5" stroke="#999"/>
<text x="775" y="698" text-anchor="middle" font-size="14">Protein</text>
<text x="838" y="698" text-anchor="middle" font-size="14">K549</text>
<text x="803" y="709" text-anchor="middle" font-size="14">1 hour</text>
</svg>
</body></html>
